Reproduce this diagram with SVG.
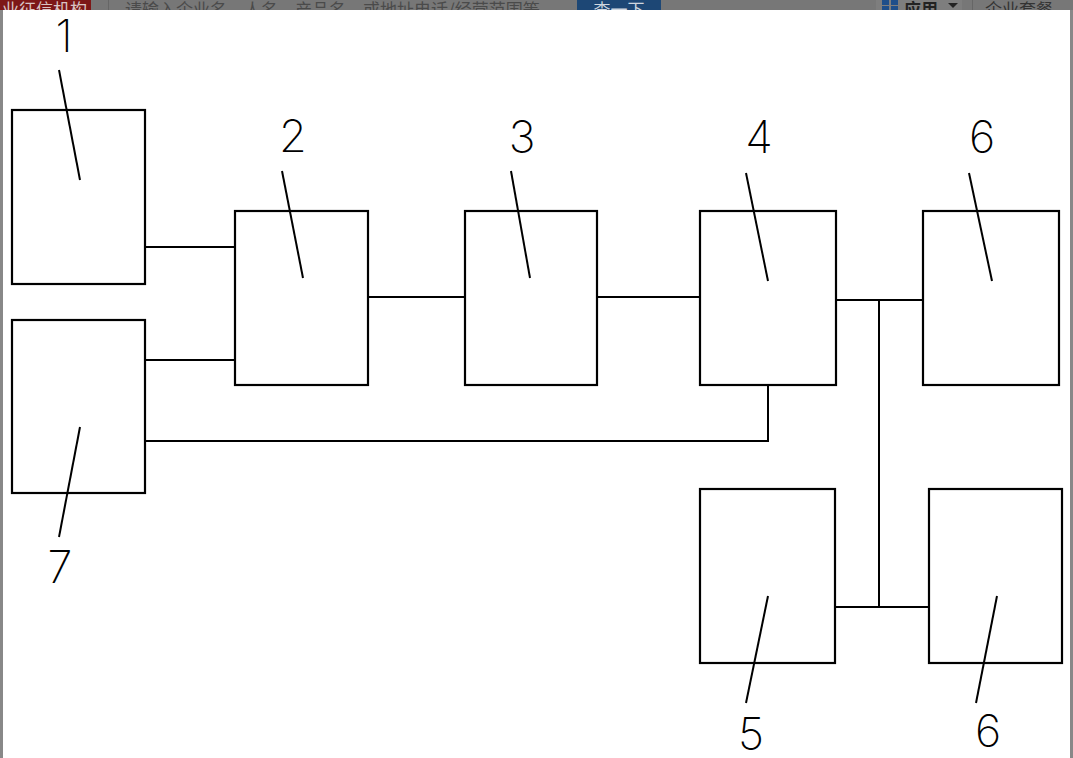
<svg xmlns="http://www.w3.org/2000/svg" width="1073" height="758" viewBox="0 0 1073 758">
<style>
.box{fill:none;stroke:#000;stroke-width:2.2}
.wire{fill:none;stroke:#000;stroke-width:2}
.lead{fill:none;stroke:#000;stroke-width:2}
.lbl{font-family:Inter,"DejaVu Sans","Liberation Sans",sans-serif;font-weight:200;font-size:45px;fill:#000;text-anchor:middle}
.bar{font-family:"Noto Sans CJK SC","Liberation Sans",sans-serif;font-size:17px}
</style>
<defs>
<clipPath id="topclip"><rect x="0" y="0" width="1073" height="10"/></clipPath>
</defs>
<rect x="0" y="0" width="1073" height="758" fill="#fff"/>
<g id="header" clip-path="url(#topclip)">
<rect x="0" y="0" width="1073" height="10" fill="#777"/>
<rect x="0" y="0" width="91" height="10" fill="#7d1717"/>
<text class="bar" x="2" y="16" fill="#d9c4c4">业征信机构</text>
<rect x="108" y="0" width="1" height="10" fill="#666"/>
<text class="bar" x="125" y="16" fill="#4a4a4a">请输入企业名、人名、产品名，或地址电话/经营范围等</text>
<rect x="577" y="0" width="84" height="10" fill="#1d4775"/>
<text class="bar" x="619" y="16" fill="#cfd6df" text-anchor="middle">查一下</text>
<rect x="876" y="0" width="86" height="10" fill="#7e7e7e"/>
<rect x="882" y="0" width="7" height="5" fill="#1f4f8a"/>
<rect x="891" y="0" width="7" height="5" fill="#1f4f8a"/>
<rect x="882" y="6" width="7" height="4" fill="#1f4f8a"/>
<rect x="891" y="6" width="7" height="4" fill="#1f4f8a"/>
<text class="bar" x="904" y="16" fill="#222" font-weight="bold">应用</text>
<path d="M948 3 L958 3 L953 8 Z" fill="#222"/>
<rect x="972" y="0" width="1" height="10" fill="#666"/>
<text class="bar" x="985" y="16" fill="#333">企业套餐</text>
</g>
<rect x="0" y="10" width="3" height="748" fill="#888"/>
<rect x="1070" y="10" width="3" height="748" fill="#888"/>

<g id="connectors">
<path class="wire" d="M145 247 H235"/>
<path class="wire" d="M145 360 H235"/>
<path class="wire" d="M368 297 H465"/>
<path class="wire" d="M597 297 H700"/>
<path class="wire" d="M145 441 H768 V385"/>
<path class="wire" d="M836 300 H923"/>
<path class="wire" d="M879 300 V607"/>
<path class="wire" d="M835 607 H929"/>
</g>

<g id="node1">
<rect class="box" x="12" y="110" width="133" height="174"/>
<path class="lead" d="M59 70 L80 180"/>
<text class="lbl" x="64" y="52">1</text>
</g>
<g id="node2">
<rect class="box" x="235" y="211" width="133" height="174"/>
<path class="lead" d="M282 171 L303 278"/>
<text class="lbl" x="293" y="152">2</text>
</g>
<g id="node3">
<rect class="box" x="465" y="211" width="132" height="174"/>
<path class="lead" d="M511 171 L530 278"/>
<text class="lbl" x="522" y="153">3</text>
</g>
<g id="node4">
<rect class="box" x="700" y="211" width="136" height="174"/>
<path class="lead" d="M746 173 L768 281"/>
<text class="lbl" x="759" y="153">4</text>
</g>
<g id="node6a">
<rect class="box" x="923" y="211" width="136" height="174"/>
<path class="lead" d="M969 173 L992 281"/>
<text class="lbl" x="982" y="153">6</text>
</g>
<g id="node7">
<rect class="box" x="12" y="320" width="133" height="173"/>
<path class="lead" d="M80 427 L59 537"/>
<text class="lbl" x="60" y="583">7</text>
</g>
<g id="node5">
<rect class="box" x="700" y="489" width="135" height="174"/>
<path class="lead" d="M768 596 L746 703"/>
<text class="lbl" x="751" y="750">5</text>
</g>
<g id="node6b">
<rect class="box" x="929" y="489" width="133" height="174"/>
<path class="lead" d="M997 596 L976 703"/>
<text class="lbl" x="988" y="747">6</text>
</g>
</svg>
